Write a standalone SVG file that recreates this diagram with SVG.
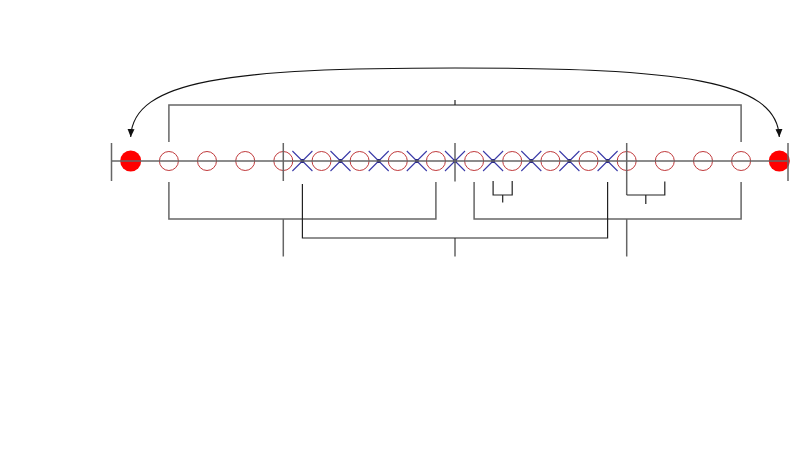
<svg xmlns="http://www.w3.org/2000/svg" width="800" height="450" viewBox="0 0 800 450">
<defs>
<style>
.oc{fill:none;stroke:#c0393b;stroke-width:1}
.fc{fill:#ff0000;stroke:none}
.x{stroke:#3a3aa8;stroke-width:1.1;fill:none}
.xd{fill:#1a1a70}
.g{stroke:#666;stroke-width:1.5;fill:none}
.d{stroke:#222;stroke-width:1.2;fill:none}
.arc{stroke:#111;stroke-width:1.1;fill:none}
</style>
<marker id="ah" markerWidth="8" markerHeight="10" refX="8" refY="3.5" orient="auto" markerUnits="userSpaceOnUse" viewBox="0 0 8 7">
<path d="M0,0 L8,3.5 L0,7 Z" fill="#111"/>
</marker>
<g id="cross"><path class="x" d="M-10,-10 L10,10 M-10,10 L10,-10"/><circle class="xd" r="2"/></g>
</defs>
<rect width="800" height="450" fill="#fff"/>
<g id="nodes">
<g id="n0"><circle class="fc" cx="130.7" cy="161" r="10.5"/></g>
<g id="n1"><circle class="oc" cx="168.9" cy="161" r="9.5"/></g>
<g id="n2"><circle class="oc" cx="207.0" cy="161" r="9.5"/></g>
<g id="n3"><circle class="oc" cx="245.2" cy="161" r="9.5"/></g>
<g id="n4"><circle class="oc" cx="283.3" cy="161" r="9.5"/></g>
<g id="n5"><circle class="oc" cx="321.5" cy="161" r="9.5"/></g>
<g id="n6"><circle class="oc" cx="359.6" cy="161" r="9.5"/></g>
<g id="n7"><circle class="oc" cx="397.8" cy="161" r="9.5"/></g>
<g id="n8"><circle class="oc" cx="435.9" cy="161" r="9.5"/></g>
<g id="n9"><circle class="oc" cx="474.1" cy="161" r="9.5"/></g>
<g id="n10"><circle class="oc" cx="512.2" cy="161" r="9.5"/></g>
<g id="n11"><circle class="oc" cx="550.4" cy="161" r="9.5"/></g>
<g id="n12"><circle class="oc" cx="588.5" cy="161" r="9.5"/></g>
<g id="n13"><circle class="oc" cx="626.7" cy="161" r="9.5"/></g>
<g id="n14"><circle class="oc" cx="664.8" cy="161" r="9.5"/></g>
<g id="n15"><circle class="oc" cx="703.0" cy="161" r="9.5"/></g>
<g id="n16"><circle class="oc" cx="741.1" cy="161" r="9.5"/></g>
<g id="n17"><circle class="fc" cx="779.3" cy="161" r="10.5"/></g>
<g id="x1"><use href="#cross" x="302.4" y="161"/></g>
<g id="x2"><use href="#cross" x="340.5" y="161"/></g>
<g id="x3"><use href="#cross" x="378.7" y="161"/></g>
<g id="x4"><use href="#cross" x="416.8" y="161"/></g>
<g id="x5"><use href="#cross" x="455.0" y="161"/></g>
<g id="x6"><use href="#cross" x="493.1" y="161"/></g>
<g id="x7"><use href="#cross" x="531.3" y="161"/></g>
<g id="x8"><use href="#cross" x="569.4" y="161"/></g>
<g id="x9"><use href="#cross" x="607.6" y="161"/></g>
</g>
<g id="connectors">
<path class="g" d="M111,161 H788"/>
<path class="g" d="M111.5,143 V181 M283.3,143 V181 M455,143 V181.5 M626.7,143 V195 M788,143 V181"/>
<path class="g" d="M168.9,142 V105 H741.1 V142"/>
<path class="d" d="M455,100 V105"/>
<path class="g" d="M168.9,182 V219 H435.9 V182 M474.1,182 V219 H741.1 V182"/>
<path class="g" d="M283.3,219 V256.5 M626.7,219 V256.5 M455,238 V256.5"/>
<path class="d" d="M302.4,184 V238 H607.6 V182"/>
<path class="d" d="M493.1,181 V195 H512.2 V181 M502.7,195 V202.5"/>
<path class="d" d="M626.7,195 H664.8 V181.5 M645.8,195 V204"/>
<path class="arc" marker-end="url(#ah)" d="M455,68 C230,68 133,80 130.7,137"/>
<path class="arc" marker-end="url(#ah)" d="M455,68 C680,68 777,80 779.3,137"/>
</g>
</svg>
